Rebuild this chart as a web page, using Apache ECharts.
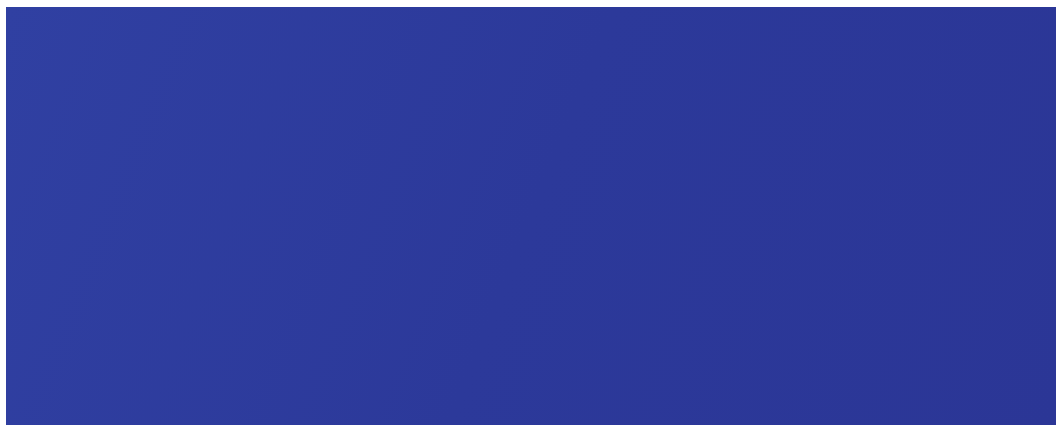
<!DOCTYPE html>
<html>
<head>
<meta charset="utf-8">
<script src="https://cdn.jsdelivr.net/npm/echarts@6/dist/echarts.min.js"></script>
<style>
  html, body { margin: 0; padding: 0; background: #ffffff; }
  #chart { width: 1056px; height: 425px; }
</style>
</head>
<body>
<div id="chart"></div>
<script>
// The reference image contains no chart: no axes, no labels, no data marks.
// It is only a blue felt-like textured surface with a thin white margin on the top and left.
const categories = [];
const seriesValues = [];
const tickLabels = [];

const chart = echarts.init(document.getElementById('chart'), null, { renderer: 'canvas' });
chart.setOption({
  backgroundColor: '#ffffff',
  animation: false,
  graphic: [
    {
      type: 'rect',
      left: 6,
      top: 7,
      shape: { width: 1050, height: 418 },
      style: {
        fill: {
          type: 'linear', x: 0, y: 0, x2: 1, y2: 1,
          colorStops: [
            { offset: 0, color: '#3040a2' },
            { offset: 0.5, color: '#2c399a' },
            { offset: 1, color: '#2b3696' }
          ]
        }
      },
      silent: true
    }
  ],
  series: []
});
</script>
</body>
</html>
